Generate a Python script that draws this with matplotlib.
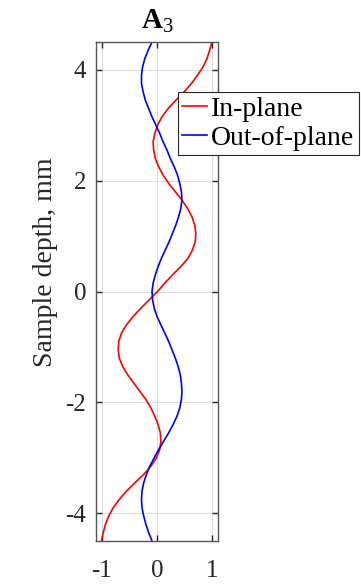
import matplotlib
matplotlib.use("Agg")
import matplotlib.pyplot as plt

# Sample depth (mm) at which values were read
depth = [4.50, 4.35, 4.20, 4.05, 3.90, 3.75, 3.60, 3.45, 3.30, 3.15, 3.00, 2.85, 2.70, 2.55, 2.40, 2.25,
         2.10, 1.95, 1.80, 1.65, 1.50, 1.35, 1.20, 1.05, 0.90, 0.75, 0.60, 0.45, 0.30, 0.15, 0.00,
         -0.15, -0.30, -0.45, -0.60, -0.75, -0.90, -1.05, -1.20, -1.35, -1.50, -1.65, -1.80, -1.95, -2.10,
         -2.25, -2.40, -2.55, -2.70, -2.85, -3.00, -3.15, -3.30, -3.45, -3.60, -3.75, -3.90, -4.05, -4.20,
         -4.35, -4.50]

in_plane = [0.99, 0.95, 0.90, 0.83, 0.73, 0.62, 0.49, 0.34, 0.20, 0.09, 0.01, -0.04, -0.07, -0.06, -0.03, 0.03,
            0.11, 0.21, 0.33, 0.45, 0.55, 0.63, 0.68, 0.70, 0.69, 0.64, 0.56, 0.43, 0.28, 0.14, 0.01,
            -0.14, -0.29, -0.43, -0.55, -0.64, -0.69, -0.70, -0.68, -0.62, -0.53, -0.42, -0.31, -0.20, -0.11,
            -0.04, 0.02, 0.06, 0.07, 0.05, -0.01, -0.11, -0.24, -0.40, -0.55, -0.68, -0.79, -0.87, -0.93,
            -0.97, -1.00]

out_of_plane = [-0.09, -0.16, -0.22, -0.26, -0.28, -0.28, -0.25, -0.21, -0.15, -0.09, -0.02, 0.05, 0.11, 0.18, 0.24, 0.31,
                0.37, 0.41, 0.44, 0.45, 0.43, 0.39, 0.34, 0.28, 0.22, 0.15, 0.08, 0.02, -0.03, -0.07, -0.09,
                -0.08, -0.05, 0.00, 0.07, 0.14, 0.21, 0.27, 0.33, 0.38, 0.42, 0.44, 0.45, 0.44, 0.41,
                0.36, 0.29, 0.21, 0.12, 0.03, -0.05, -0.13, -0.19, -0.24, -0.27, -0.28, -0.27, -0.24, -0.20,
                -0.15, -0.09]

xticks = [-1, 0, 1]
yticks = [-4, -2, 0, 2, 4]
labels = ["In-plane", "Out-of-plane"]
title = r"$\mathbf{A}_{3}$"
ylabel = "Sample depth, mm"

plt.rcParams['font.family'] = ['Liberation Serif', 'DejaVu Serif']
plt.rcParams['mathtext.fontset'] = 'custom'
plt.rcParams['mathtext.rm'] = 'Liberation Serif'
plt.rcParams['mathtext.bf'] = 'Liberation Serif:bold'

fig = plt.figure(figsize=(3.61, 5.85), dpi=100)
ax = fig.add_axes([96/361, 1 - 541/585, 122/361, 499/585])

ax.plot(in_plane, depth, color='#ff0000', lw=1.2, label=labels[0])
ax.plot(out_of_plane, depth, color='#0000ff', lw=1.2, label=labels[1])

ax.set_xlim(-1.1, 1.1)
ax.set_ylim(-4.5, 4.5)
ax.set_xticks(xticks)
ax.set_yticks(yticks)
ax.set_xticklabels([str(t) for t in xticks])
ax.set_yticklabels([str(t) for t in yticks])
ax.grid(True, color='#dcdcdc', lw=0.8)
ax.set_axisbelow(True)
for s in ax.spines.values():
    s.set_color('#555555')
    s.set_linewidth(1.0)
ax.tick_params(direction='in', length=4, width=1.0, color='#262626',
               top=True, right=True, labelsize=18, labelcolor='#262626')
ax.tick_params(axis='y', pad=7)
ax.tick_params(axis='x', pad=14)

ax.set_title(title, fontsize=21, pad=10)
ax.set_ylabel(ylabel, fontsize=20, color='#262626')
ax.yaxis.set_label_coords(-0.31, 0.559)

leg = ax.legend(loc='upper left', bbox_to_anchor=(178/361, 1 - 92/585),
                bbox_transform=fig.transFigure, fontsize=20, frameon=True,
                fancybox=False, framealpha=1, edgecolor='#262626',
                borderaxespad=0, borderpad=0.15, labelspacing=0.15,
                handlelength=0.9, handletextpad=0.15)
leg.get_frame().set_linewidth(0.8)

fig.savefig('out.png', dpi=100)
